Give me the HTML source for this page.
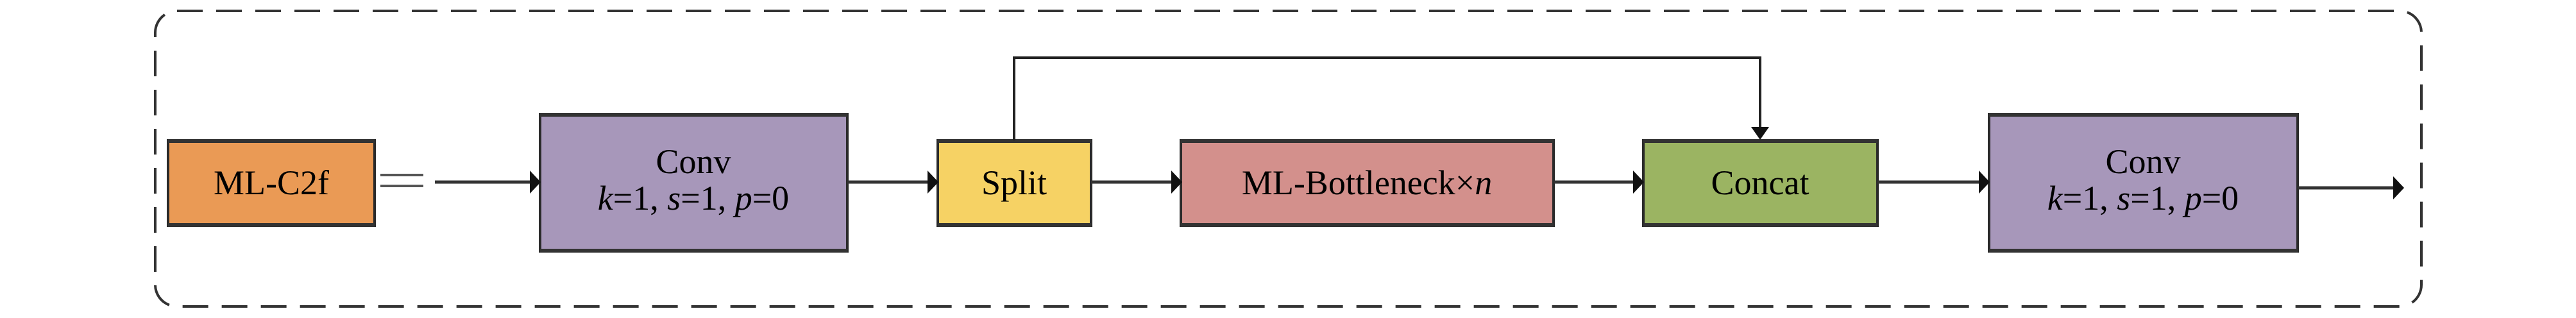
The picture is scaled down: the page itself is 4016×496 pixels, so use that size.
<!DOCTYPE html>
<html><head><style>html,body{margin:0;padding:0;background:#fff;}svg{display:block}</style></head>
<body>
<svg width="4016" height="496" viewBox="0 0 4016 496" xmlns="http://www.w3.org/2000/svg" font-family="'Liberation Serif', serif" font-size="54">
<rect x="242" y="17" width="3533" height="461" rx="34" ry="34" fill="none" stroke="#333" stroke-width="4" stroke-dasharray="40 21"/>
<g stroke="#2a2a2a" stroke-width="4">
<rect x="262" y="219" width="322" height="133" fill="#EA9A55"/>
<rect x="842" y="178" width="479" height="214" fill="#A797BA"/>
<rect x="1462" y="219" width="239" height="133" fill="#F6D264"/>
<rect x="1841" y="219" width="581" height="133" fill="#D3908C"/>
<rect x="2562" y="219" width="365" height="133" fill="#9BB462"/>
<rect x="3101" y="178" width="481" height="214" fill="#A797BA"/>
</g>
<g fill="#333">
<rect x="262" y="217" width="322" height="6"/><rect x="262" y="348" width="322" height="6"/>
<rect x="842" y="176" width="479" height="6"/><rect x="842" y="388" width="479" height="6"/>
<rect x="1462" y="217" width="239" height="6"/><rect x="1462" y="348" width="239" height="6"/>
<rect x="1841" y="217" width="581" height="6"/><rect x="1841" y="348" width="581" height="6"/>
<rect x="2562" y="217" width="365" height="6"/><rect x="2562" y="348" width="365" height="6"/>
<rect x="3101" y="176" width="481" height="6"/><rect x="3101" y="388" width="481" height="6"/>
</g>
<g stroke="#555" stroke-width="4"><line x1="593" y1="273" x2="660" y2="273"/><line x1="593" y1="290" x2="660" y2="290"/></g>
<g stroke="#333" stroke-width="5" fill="none">
<line x1="678" y1="284" x2="828" y2="284"/>
<line x1="1321" y1="284" x2="1448" y2="284"/>
<line x1="1701" y1="284" x2="1828" y2="284"/>
<line x1="2422" y1="284" x2="2548" y2="284"/>
<line x1="2927" y1="284" x2="3088" y2="284"/>
<line x1="3582" y1="293" x2="3735" y2="293"/>
</g>
<polyline points="1581,219 1581,90 2744,90 2744,200" fill="none" stroke="#222" stroke-width="4"/>
<g fill="#111">
<polygon points="826,266 843,284 826,302"/>
<polygon points="1446,266 1463,284 1446,302"/>
<polygon points="1826,266 1843,284 1826,302"/>
<polygon points="2546,266 2563,284 2546,302"/>
<polygon points="3085,266 3102,284 3085,302"/>
<polygon points="3731,275 3748,293 3731,311"/>
<polygon points="2730,198 2758,198 2744,218"/>
</g>
<g fill="#000" text-anchor="middle">
<text x="423" y="303">ML-C2f</text>
<text x="1081" y="270">Conv</text>
<text x="1081" y="327"><tspan font-style="italic">k</tspan>=1, <tspan font-style="italic">s</tspan>=1, <tspan font-style="italic">p</tspan>=0</text>
<text x="1581" y="303">Split</text>
<text x="2131" y="303">ML-Bottleneck×<tspan font-style="italic">n</tspan></text>
<text x="2744" y="303">Concat</text>
<text x="3341" y="270">Conv</text>
<text x="3341" y="327"><tspan font-style="italic">k</tspan>=1, <tspan font-style="italic">s</tspan>=1, <tspan font-style="italic">p</tspan>=0</text>
</g>
</svg>
</body></html>
